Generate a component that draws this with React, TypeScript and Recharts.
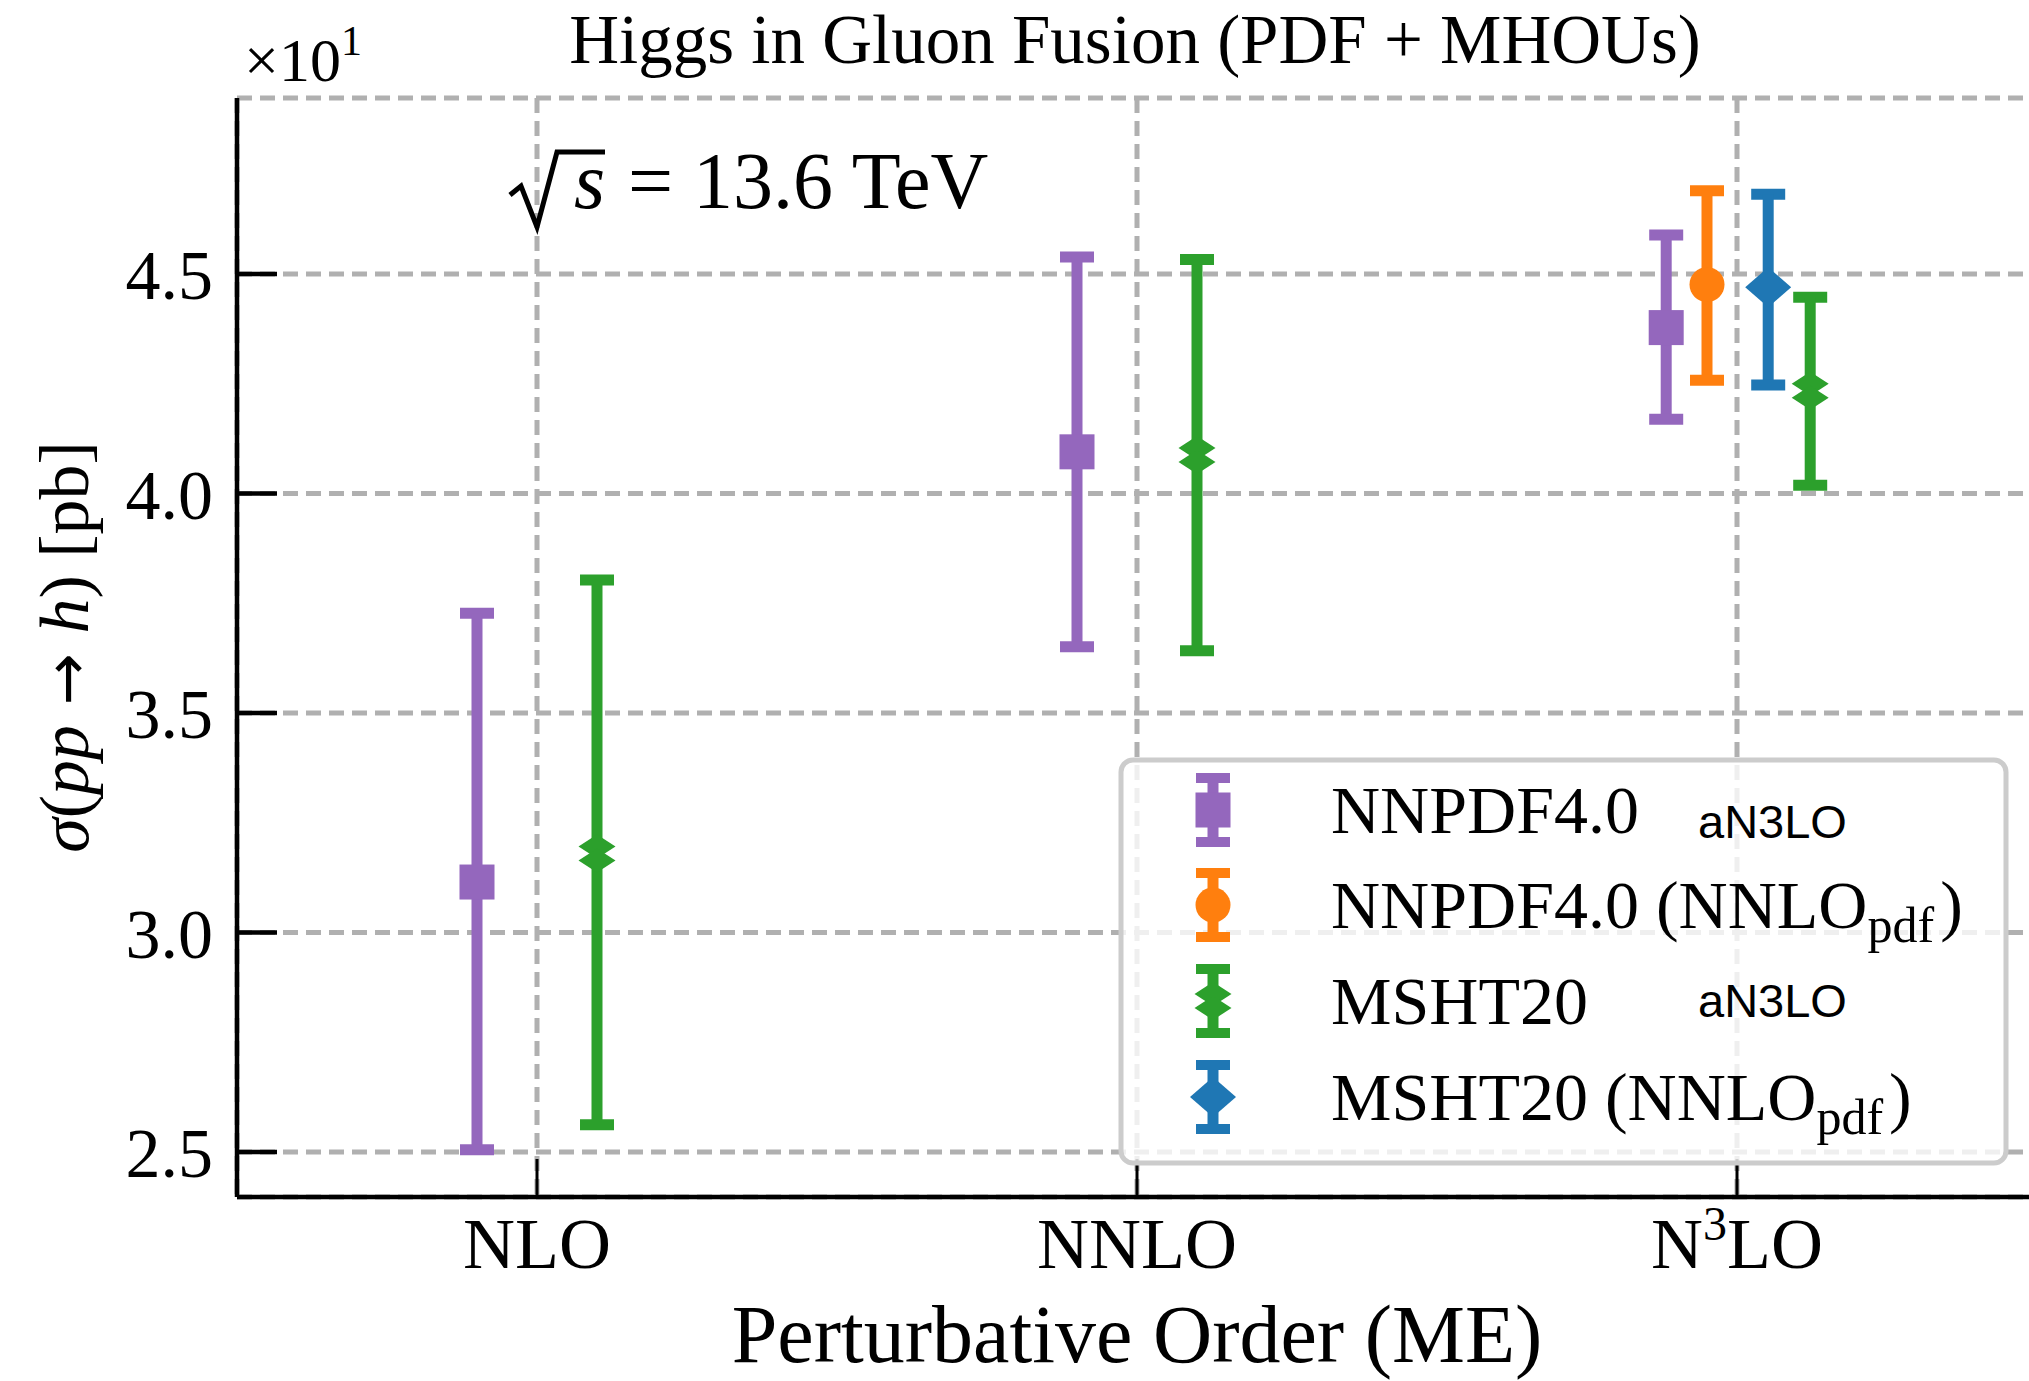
import React from 'react';
import { ComposedChart, Scatter, ErrorBar, XAxis, YAxis, CartesianGrid } from 'recharts';

// categories on the x axis
const orders = ['NLO', 'NNLO', 'N3LO'];
const yTicks = [2.5, 3.0, 3.5, 4.0, 4.5];

// NNPDF4.0 aN3LO (all orders)
const nnpdfAn3loCentral = [3.115, 4.095, 4.378];
const nnpdfAn3loLow = [2.505, 3.651, 4.169];
const nnpdfAn3loHigh = [3.727, 4.539, 4.589];

// MSHT20 aN3LO (all orders)
const mshtAn3loCentral = [3.18, 4.088, 4.234];
const mshtAn3loLow = [2.562, 3.642, 4.019];
const mshtAn3loHigh = [3.803, 4.533, 4.447];

// NNLO pdf sets, only at N3LO
const nnloPdfOrders = ['N3LO'];
const nnpdfNnloCentral = [4.476];
const nnpdfNnloLow = [4.258];
const nnpdfNnloHigh = [4.69];
const mshtNnloCentral = [4.47];
const mshtNnloLow = [4.247];
const mshtNnloHigh = [4.682];

// layout: horizontal dodge of each series around its category
const nnpdfAn3loShift = [-0.1, -0.1, -0.118];
const mshtAn3loShift = [0.1, 0.1, 0.122];
const nnpdfNnloShift = [-0.05];
const mshtNnloShift = [0.052];

const PURPLE = '#9467bd';
const ORANGE = '#ff7f0e';
const GREEN = '#2ca02c';
const BLUE = '#1f77b4';
const SERIF = '"Liberation Serif", "DejaVu Serif", serif';
const SANS = '"Liberation Sans", Arial, sans-serif';

const X_DOMAIN = [-0.5, 2.5];
const Y_DOMAIN = [2.3975, 4.901];

const build = (ords: string[], c: number[], lo: number[], hi: number[], shift: number[]) =>
  ords.map((o, i) => ({
    x: orders.indexOf(o) + shift[i],
    y: c[i],
    err: [c[i] - lo[i], hi[i] - c[i]],
  }));

const nnpdfAn3lo = build(orders, nnpdfAn3loCentral, nnpdfAn3loLow, nnpdfAn3loHigh, nnpdfAn3loShift);
const mshtAn3lo = build(orders, mshtAn3loCentral, mshtAn3loLow, mshtAn3loHigh, mshtAn3loShift);
const nnpdfNnlo = build(nnloPdfOrders, nnpdfNnloCentral, nnpdfNnloLow, nnpdfNnloHigh, nnpdfNnloShift);
const mshtNnlo = build(nnloPdfOrders, mshtNnloCentral, mshtNnloLow, mshtNnloHigh, mshtNnloShift);

// markers
const Square = ({ cx, cy, fill }: any) => (
  <rect x={cx - 17.5} y={cy - 17.5} width={35} height={35} fill={fill} />
);
const Dot = ({ cx, cy, fill }: any) => <circle cx={cx} cy={cy} r={17.5} fill={fill} />;
const Diamond = ({ cx, cy, fill }: any) => (
  <polygon points={`${cx},${cy - 20} ${cx + 23},${cy} ${cx},${cy + 20} ${cx - 23},${cy}`} fill={fill} />
);
const ThinDiamonds = ({ cx, cy, fill }: any) => (
  <g fill={fill}>
    <polygon points={`${cx},${cy - 19} ${cx + 18.5},${cy - 7} ${cx},${cy + 5} ${cx - 18.5},${cy - 7}`} />
    <polygon points={`${cx},${cy - 5} ${cx + 18.5},${cy + 7} ${cx},${cy + 19} ${cx - 18.5},${cy + 7}`} />
  </g>
);

const XTick = (p: any) => {
  const label = orders[p.payload.value];
  return (
    <g>
      <line x1={p.x} y1={p.y} x2={p.x} y2={p.y - 38} stroke="#000" strokeWidth={3} />
      <text x={p.x} y={p.y + 71} textAnchor="middle" fontFamily={SERIF} fontSize={72} fill="#000">
        {label === 'N3LO' ? (
          <>
            N<tspan fontSize={48} dy={-28}>3</tspan>
            <tspan dy={28}>LO</tspan>
          </>
        ) : (
          label
        )}
      </text>
    </g>
  );
};

const YTick = (p: any) => (
  <g>
    <line x1={p.x} y1={p.y} x2={p.x + 40} y2={p.y} stroke="#000" strokeWidth={4.5} />
    <text x={p.x - 24} y={p.y + 25} textAnchor="end" fontFamily={SERIF} fontSize={70} fill="#000">
      {p.payload.value.toFixed(1)}
    </text>
  </g>
);

const RightTick = (p: any) => (
  <line x1={p.x} y1={p.y} x2={p.x - 39} y2={p.y} stroke="#000" strokeWidth={4.5} />
);

const LegendIcon = ({ cx, cy, color, Marker }: any) => (
  <g>
    <line x1={cx} y1={cy - 37} x2={cx} y2={cy + 37} stroke={color} strokeWidth={11} />
    <line x1={cx - 17} y1={cy - 32} x2={cx + 17} y2={cy - 32} stroke={color} strokeWidth={10} />
    <line x1={cx - 17} y1={cy + 32} x2={cx + 17} y2={cy + 32} stroke={color} strokeWidth={10} />
    <Marker cx={cx} cy={cy} fill={color} />
  </g>
);

const legendRows = [
  { name: 'NNPDF4.0', tag: 'aN3LO', pdf: false, color: PURPLE, Marker: Square },
  { name: 'NNPDF4.0', tag: '', pdf: true, color: ORANGE, Marker: Dot },
  { name: 'MSHT20', tag: 'aN3LO', pdf: false, color: GREEN, Marker: ThinDiamonds },
  { name: 'MSHT20', tag: '', pdf: true, color: BLUE, Marker: Diamond },
];
const legendRowY = [810, 905, 1001, 1097];
const legendTagDy = [28, 0, 16, 0];

const Overlay = () => (
  <svg width={2029} height={1381} style={{ position: 'absolute', left: 0, top: 0, pointerEvents: 'none' }}>
    {/* title */}
    <text x={1135} y={63} textAnchor="middle" fontFamily={SERIF} fontSize={69} fill="#000">
      Higgs in Gluon Fusion (PDF + MHOUs)
    </text>
    {/* offset text */}
    <text x={244} y={81} fontFamily={SERIF} fontSize={62} fill="#000">
      ×10<tspan fontSize={42} dy={-26}>1</tspan>
    </text>
    {/* sqrt(s) annotation */}
    <polyline
      points="510,195 521,186 537,227 557,152 605,152"
      fill="none"
      stroke="#000"
      strokeWidth={5}
      strokeLinejoin="miter"
    />
    <text x={574} y={208} fontFamily={SERIF} fontSize={80} fontStyle="italic" fill="#000">
      s
    </text>
    <text x={628} y={208} fontFamily={SERIF} fontSize={80} fill="#000">
      = 13.6 TeV
    </text>
    {/* y label */}
    <text
      transform="translate(88,647) rotate(-90)"
      textAnchor="middle"
      fontFamily={SERIF}
      fontSize={70}
      fill="#000"
    >
      <tspan fontStyle="italic">σ</tspan>(<tspan fontStyle="italic">pp</tspan>
      <tspan fontFamily='"DejaVu Sans", sans-serif' fontSize={62}> → </tspan>
      <tspan fontStyle="italic">h</tspan>) [pb]
    </text>
    {/* x label */}
    <text x={1137} y={1362} textAnchor="middle" fontFamily={SERIF} fontSize={82} fill="#000">
      Perturbative Order (ME)
    </text>
    {/* legend */}
    <rect x={1121} y={760} width={885} height={403} rx={12} ry={12} fill="rgba(255,255,255,0.8)" stroke="#cccccc" strokeWidth={5} />
    {legendRows.map((r, i) => {
      const cy = legendRowY[i];
      return (
        <g key={i}>
          <LegendIcon cx={1213} cy={cy} color={r.color} Marker={r.Marker} />
          <text x={1331} y={cy + 23} fontFamily={SERIF} fontSize={68} fill="#000">
            {r.name}
            {r.pdf && (
              <>
                {' (NNLO'}
                <tspan fontSize={50} dy={14}>pdf</tspan>
                <tspan dx={6} dy={-14}>)</tspan>
              </>
            )}
          </text>
          {r.tag && (
            <text x={1698} y={cy + legendTagDy[i]} fontFamily={SANS} fontSize={47} fill="#000">
              {r.tag}
            </text>
          )}
        </g>
      );
    })}
  </svg>
);

const App = () => {
  return (
    <div style={{ position: 'absolute', left: 0, top: 0, width: 2029, height: 1381, overflow: 'hidden', background: '#fff' }}>
      <ComposedChart width={2060} height={1381} margin={{ top: 98, right: 23, bottom: 0, left: 0 }}>
        <CartesianGrid stroke="#b0b0b0" strokeWidth={5} strokeDasharray="15 8" />
        <XAxis
          dataKey="x"
          type="number"
          domain={X_DOMAIN}
          ticks={[0, 1, 2]}
          allowDataOverflow
          height={184}
          tickSize={0}
          tickMargin={0}
          tickLine={false}
          axisLine={{ stroke: '#000', strokeWidth: 4.5 }}
          tick={XTick}
          interval={0}
        />
        <XAxis
          xAxisId="top"
          orientation="top"
          type="number"
          domain={X_DOMAIN}
          allowDataOverflow
          height={0}
          tick={false}
          tickLine={false}
          axisLine={{ stroke: '#000', strokeWidth: 4.5 }}
        />
        <YAxis
          dataKey="y"
          type="number"
          domain={Y_DOMAIN}
          ticks={yTicks}
          allowDataOverflow
          width={237}
          tickSize={0}
          tickMargin={0}
          tickLine={false}
          axisLine={{ stroke: '#000', strokeWidth: 4.5 }}
          tick={YTick}
          interval={0}
        />
        <YAxis
          yAxisId="right"
          orientation="right"
          type="number"
          domain={Y_DOMAIN}
          ticks={yTicks}
          allowDataOverflow
          width={0}
          tickSize={0}
          tickMargin={0}
          tickLine={false}
          axisLine={{ stroke: '#000', strokeWidth: 4.5 }}
          tick={RightTick}
          interval={0}
        />
        <Scatter data={nnpdfAn3lo} fill={PURPLE} isAnimationActive={false} shape={(p: any) => <Square cx={p.cx} cy={p.cy} fill={PURPLE} />}>
          <ErrorBar dataKey="err" direction="y" width={17} strokeWidth={11} stroke={PURPLE} isAnimationActive={false} />
        </Scatter>
        <Scatter data={nnpdfNnlo} fill={ORANGE} isAnimationActive={false} shape={(p: any) => <Dot cx={p.cx} cy={p.cy} fill={ORANGE} />}>
          <ErrorBar dataKey="err" direction="y" width={17} strokeWidth={11} stroke={ORANGE} isAnimationActive={false} />
        </Scatter>
        <Scatter data={mshtAn3lo} fill={GREEN} isAnimationActive={false} shape={(p: any) => <ThinDiamonds cx={p.cx} cy={p.cy} fill={GREEN} />}>
          <ErrorBar dataKey="err" direction="y" width={17} strokeWidth={11} stroke={GREEN} isAnimationActive={false} />
        </Scatter>
        <Scatter data={mshtNnlo} fill={BLUE} isAnimationActive={false} shape={(p: any) => <Diamond cx={p.cx} cy={p.cy} fill={BLUE} />}>
          <ErrorBar dataKey="err" direction="y" width={17} strokeWidth={11} stroke={BLUE} isAnimationActive={false} />
        </Scatter>
      </ComposedChart>
      <Overlay />
    </div>
  );
};

export default App;
